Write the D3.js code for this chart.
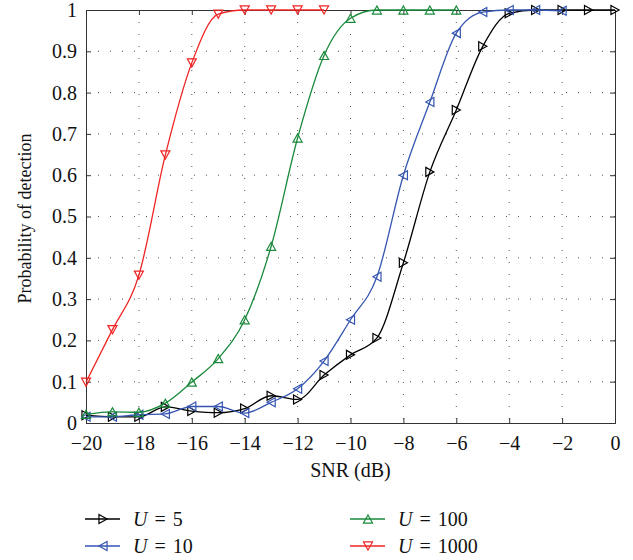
<!DOCTYPE html>
<html>
<head>
<meta charset="utf-8">
<script src="https://cdn.jsdelivr.net/npm/d3@7"></script>
<style>
  body { margin: 0; background: #fff; }
  text { font-family: "Liberation Serif", "DejaVu Serif", serif; }
</style>
</head>
<body>
<svg id="chart" width="633" height="560"></svg>
<script>
// snr values (dB)
var snr = [-20, -19, -18, -17, -16, -15, -14, -13, -12, -11, -10,
           -9, -8, -7, -6, -5, -4, -3, -2, -1, 0];

// probability of detection for each U
var pdU5 = [0.019, 0.015, 0.015, 0.039, 0.029, 0.025, 0.035, 0.066, 0.057, 0.116, 0.165,
            0.206, 0.388, 0.608, 0.758, 0.912, 0.992, 1, 1, 1, 1];
var pdU10 = [0.015, 0.015, 0.02, 0.022, 0.04, 0.04, 0.024, 0.05, 0.083, 0.15, 0.25,
             0.354, 0.6, 0.777, 0.944, 0.995, 1, 1, 0.998];
var pdU100 = [0.021, 0.027, 0.026, 0.048, 0.099, 0.156, 0.25, 0.428, 0.69, 0.89, 0.98,
              1, 1, 1, 1];
var pdU1000 = [0.099, 0.226, 0.358, 0.649, 0.872, 0.99, 1, 1, 1, 1];

var xTicks = [-20, -18, -16, -14, -12, -10, -8, -6, -4, -2, 0];
var yTicks = [0, 0.1, 0.2, 0.3, 0.4, 0.5, 0.6, 0.7, 0.8, 0.9, 1];

var series = [
  { name: '5', values: pdU5, color: '#000000', marker: 'right' },
  { name: '10', values: pdU10, color: '#3555b0', marker: 'left' },
  { name: '100', values: pdU100, color: '#1a8a3c', marker: 'up' },
  { name: '1000', values: pdU1000, color: '#ef2424', marker: 'down' }
];

var svg = d3.select('#chart');
var pLeft = 86, pRight = 615, pTop = 10, pBottom = 423;

var x = d3.scaleLinear().domain([-20, 0]).range([pLeft, pRight]);
var y = d3.scaleLinear().domain([0, 1]).range([pBottom, pTop]);

// dotted grid
var grid = svg.append('g');
grid.selectAll('line.gx')
  .data(xTicks.slice(1, -1)).enter()
  .append('line')
  .attr('x1', function(d) { return x(d); })
  .attr('x2', function(d) { return x(d); })
  .attr('y1', pTop).attr('y2', pBottom)
  .attr('stroke', '#555').attr('stroke-width', 1)
  .attr('stroke-dasharray', '1,11');
grid.selectAll('line.gy')
  .data(yTicks.slice(1, -1)).enter()
  .append('line')
  .attr('y1', function(d) { return y(d); })
  .attr('y2', function(d) { return y(d); })
  .attr('x1', pLeft).attr('x2', pRight)
  .attr('stroke', '#555').attr('stroke-width', 1)
  .attr('stroke-dasharray', '1,11');

// axes
var fmtY = function(d) { return d === 0 || d === 1 ? String(d) : d.toFixed(1); };
var fmtX = function(d) { return d < 0 ? '\u2212' + Math.abs(d) : String(d); };

svg.append('g')
  .attr('transform', 'translate(0,' + pBottom + ')')
  .call(d3.axisBottom(x).tickValues(xTicks).tickSize(-5).tickPadding(13).tickFormat(fmtX));
svg.append('g')
  .attr('transform', 'translate(' + pLeft + ',0)')
  .call(d3.axisLeft(y).tickValues(yTicks).tickSize(-5).tickPadding(9).tickFormat(fmtY));
svg.append('g')
  .attr('transform', 'translate(0,' + pTop + ')')
  .call(d3.axisTop(x).tickValues(xTicks).tickSize(-5).tickFormat(''));
svg.append('g')
  .attr('transform', 'translate(' + pRight + ',0)')
  .call(d3.axisRight(y).tickValues(yTicks).tickSize(-5).tickFormat(''));

svg.selectAll('.domain').attr('stroke', '#333');
svg.selectAll('.tick line').attr('stroke', '#333');
svg.selectAll('.tick text')
  .attr('font-size', 20)
  .attr('fill', '#111')
  .style('font-family', '"Liberation Serif", serif');

// markers
function markerPath(type, s) {
  var h = s * 0.9;
  if (type === 'right') return 'M' + (-h / 2) + ',' + (-s / 2) + 'L' + (h / 2) + ',0L' + (-h / 2) + ',' + (s / 2) + 'Z';
  if (type === 'left') return 'M' + (h / 2) + ',' + (-s / 2) + 'L' + (-h / 2) + ',0L' + (h / 2) + ',' + (s / 2) + 'Z';
  if (type === 'up') return 'M' + (-s / 2) + ',' + (h / 2) + 'L0,' + (-h / 2) + 'L' + (s / 2) + ',' + (h / 2) + 'Z';
  return 'M' + (-s / 2) + ',' + (-h / 2) + 'L0,' + (h / 2) + 'L' + (s / 2) + ',' + (-h / 2) + 'Z';
}

var line = d3.line()
  .x(function(d) { return x(d[0]); })
  .y(function(d) { return y(d[1]); })
  .curve(d3.curveMonotoneX);

var plot = svg.append('g');
series.forEach(function(s) {
  var pts = s.values.map(function(v, i) { return [snr[i], v]; });
  var g = plot.append('g');
  g.append('path')
    .datum(pts)
    .attr('d', line)
    .attr('fill', 'none')
    .attr('stroke', s.color)
    .attr('stroke-width', 1.3);
  g.selectAll('path.m')
    .data(pts).enter()
    .append('path')
    .attr('transform', function(d) { return 'translate(' + x(d[0]) + ',' + y(d[1]) + ')'; })
    .attr('d', markerPath(s.marker, 9))
    .attr('fill', 'none')
    .attr('stroke', s.color)
    .attr('stroke-width', 1.2);
});

// axis titles
svg.append('text')
  .attr('x', (pLeft + pRight) / 2).attr('y', 477)
  .attr('text-anchor', 'middle')
  .attr('font-size', 20)
  .attr('fill', '#111')
  .text('SNR (dB)');
svg.append('text')
  .attr('transform', 'translate(31,' + ((pTop + pBottom) / 2 + 2) + ') rotate(-90)')
  .attr('text-anchor', 'middle')
  .attr('font-size', 18)
  .attr('fill', '#111')
  .text('Probability of detection');

// legend
var legendPos = [[85, 519], [85, 546], [350, 519], [350, 546]];
series.forEach(function(s, i) {
  var p = legendPos[i];
  var g = svg.append('g').attr('transform', 'translate(' + p[0] + ',' + p[1] + ')');
  g.append('line')
    .attr('x1', 0).attr('x2', 35).attr('y1', 0).attr('y2', 0)
    .attr('stroke', s.color).attr('stroke-width', 1.3);
  g.append('path')
    .attr('transform', 'translate(18,0)')
    .attr('d', markerPath(s.marker, 9))
    .attr('fill', 'none')
    .attr('stroke', s.color).attr('stroke-width', 1.2);
  var t = g.append('text')
    .attr('x', 48).attr('y', 7)
    .attr('font-size', 20)
    .attr('word-spacing', 2)
    .attr('fill', '#111');
  t.append('tspan').attr('font-style', 'italic').text('U');
  t.append('tspan').text(' = ' + s.name);
});
</script>
</body>
</html>
